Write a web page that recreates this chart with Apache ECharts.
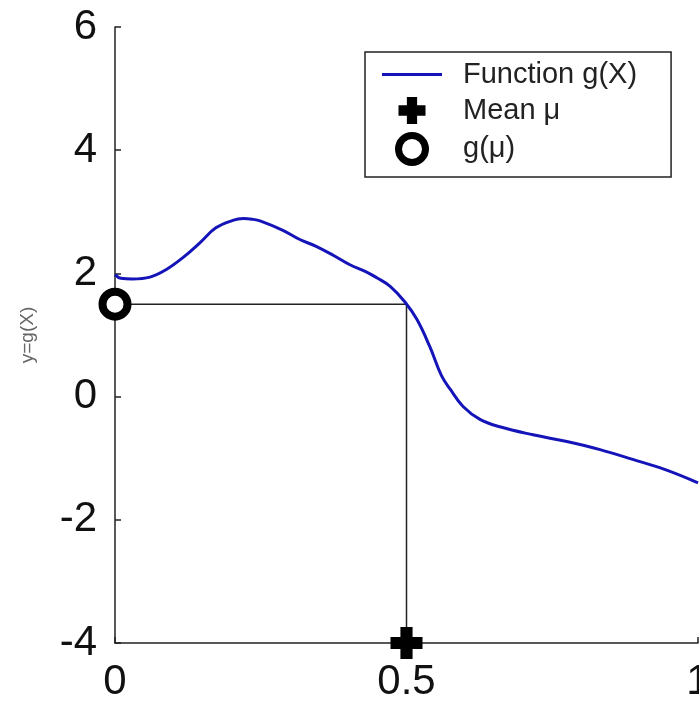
<!DOCTYPE html>
<html>
<head>
<meta charset="utf-8">
<script src="https://cdn.jsdelivr.net/npm/echarts@6/dist/echarts.min.js"></script>
<style>
  html, body { margin: 0; padding: 0; background: #fff; overflow: hidden; }
  #main { width: 699px; height: 706px; }
</style>
</head>
<body>
<div id="main"></div>
<script>
// curve g(x)
const xs = [0, 0.01, 0.03, 0.06, 0.0875, 0.117, 0.146, 0.173, 0.202, 0.22, 0.235, 0.25, 0.288, 0.317, 0.345, 0.375,
  0.403, 0.43, 0.449, 0.472, 0.497, 0.518, 0.54, 0.56, 0.575, 0.597, 0.626, 0.66, 0.717, 0.775, 0.832, 0.888, 0.945, 1.0];
const ys = [1.98, 1.92, 1.91, 1.94, 2.06, 2.26, 2.5, 2.74, 2.86, 2.89, 2.88, 2.85, 2.7, 2.55, 2.44, 2.29,
  2.14, 2.03, 1.93, 1.79, 1.54, 1.25, 0.81, 0.34, 0.12, -0.16, -0.37, -0.49, -0.62, -0.73, -0.86, -1.02, -1.19, -1.4];

// mean and g(mean)
const mu = [0.5];
const gmu = [1.5];

const yMin = -4;
const yMax = 6;

const seriesNames = ['Function g(X)', 'Mean \u03bc', 'g(\u03bc)'];

const plusPath = 'path://M31,0H69V31H100V69H69V100H31V69H0V31H31Z';
const linePath = 'path://M0,0H60V3H0Z';

const curve = xs.map((x, i) => [x, ys[i]]);
// guide: from (0, g(mu)) across to mu and down to the x axis
const guide = [[0, gmu[0]], [mu[0], gmu[0]], [mu[0], yMin]];

const font = 'Liberation Sans, Arial, sans-serif';

const myChart = echarts.init(document.getElementById('main'));
myChart.setOption({
  animation: false,
  grid: {
    left: 115,
    right: 1,
    top: 27,
    bottom: 63,
    containLabel: false,
    outerBoundsMode: 'none'
  },
  legend: {
    orient: 'vertical',
    left: 365,
    top: 52,
    padding: [8, 34, 11, 17],
    itemWidth: 60,
    itemHeight: 27,
    itemGap: 7,
    borderColor: '#222',
    borderWidth: 1.5,
    borderRadius: 0,
    backgroundColor: '#fff',
    data: [
      { name: seriesNames[0], icon: linePath, itemStyle: { color: '#1414b8' } },
      { name: seriesNames[1], icon: plusPath, itemStyle: { color: '#000', opacity: 1 } },
      { name: seriesNames[2], icon: 'circle', itemStyle: { color: '#fff', borderColor: '#000', borderWidth: 7, opacity: 1 } }
    ],
    textStyle: {
      fontFamily: font,
      fontSize: 29,
      color: '#222',
      padding: [0, 0, 0, 16]
    }
  },
  xAxis: {
    type: 'value',
    min: 0,
    max: 1,
    interval: 0.5,
    axisLine: { onZero: false, lineStyle: { color: '#222', width: 1.5 } },
    axisTick: { inside: true, length: 6, lineStyle: { color: '#222', width: 1.5 } },
    axisLabel: {
      margin: 18,
      fontFamily: font,
      fontSize: 42,
      color: '#111'
    },
    splitLine: { show: false }
  },
  yAxis: {
    type: 'value',
    min: yMin,
    max: yMax,
    interval: 2,
    name: 'y=g(X)',
    nameLocation: 'middle',
    nameGap: 78,
    nameTextStyle: {
      fontFamily: font,
      fontSize: 19,
      color: '#666'
    },
    axisLine: { onZero: false, lineStyle: { color: '#222', width: 1.5 } },
    axisTick: { inside: true, length: 6, lineStyle: { color: '#222', width: 1.5 } },
    axisLabel: {
      margin: 18,
      fontFamily: font,
      fontSize: 42,
      color: '#111'
    },
    splitLine: { show: false }
  },
  series: [
    {
      name: 'guide',
      type: 'line',
      data: guide,
      symbol: 'none',
      silent: true,
      z: 1,
      lineStyle: { color: '#222', width: 1.5 }
    },
    {
      name: seriesNames[0],
      type: 'line',
      data: curve,
      smooth: 0.4,
      symbol: 'none',
      z: 2,
      lineStyle: { color: '#1414b8', width: 3 },
      itemStyle: { color: '#1414b8' }
    },
    {
      name: seriesNames[1],
      type: 'scatter',
      data: mu.map(m => [m, yMin]),
      symbol: plusPath,
      symbolSize: 32,
      clip: false,
      z: 3,
      itemStyle: { color: '#000', opacity: 1 }
    },
    {
      name: seriesNames[2],
      type: 'scatter',
      data: gmu.map(g => [0, g]),
      symbol: 'circle',
      symbolSize: 25,
      clip: false,
      z: 3,
      itemStyle: { color: '#fff', borderColor: '#000', borderWidth: 8, opacity: 1 }
    }
  ]
});
</script>
</body>
</html>
